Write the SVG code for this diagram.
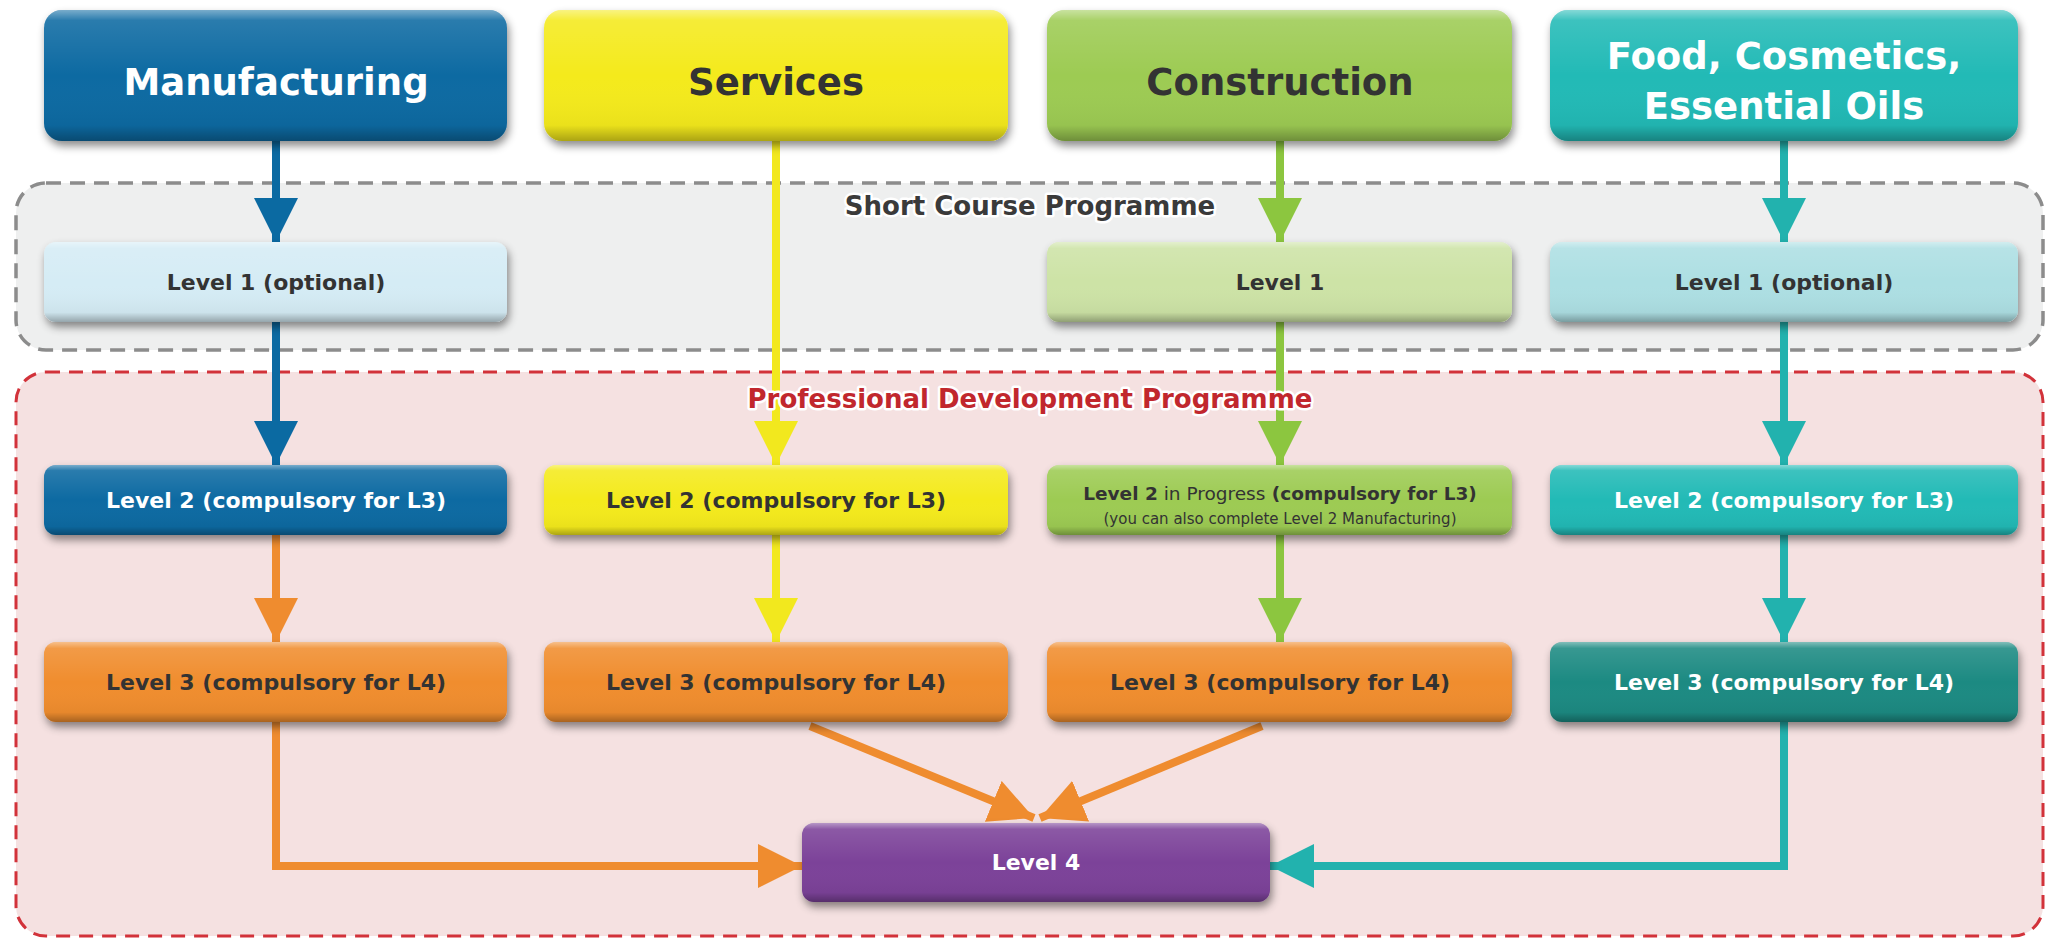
<svg xmlns="http://www.w3.org/2000/svg" width="2049" height="939" viewBox="0 0 2049 939">
<style>
text{font-family:"DejaVu Sans","Liberation Sans",sans-serif;font-weight:bold;text-anchor:middle}
.hdr{font-size:37px}
.lvl{font-size:22px}
.w{fill:#ffffff}
.d{fill:#333333}
.bev{fill:url(#bevel)}
.base{filter:url(#sh)}
.ln{fill:none;stroke-width:8}
.prog{font-size:26px;stroke:#ffffff;stroke-width:5;stroke-linejoin:round;paint-order:stroke}
</style>
<defs>
<filter id="sh" x="-5%" y="-10%" width="110%" height="130%">
<feDropShadow dx="2" dy="5" stdDeviation="4" flood-color="#000" flood-opacity="0.45"/>
</filter>
<linearGradient id="bevel" x1="0" y1="0" x2="0" y2="1">
<stop offset="0" stop-color="#fff" stop-opacity="0.45"/>
<stop offset="0.08" stop-color="#fff" stop-opacity="0.12"/>
<stop offset="0.5" stop-color="#fff" stop-opacity="0"/>
<stop offset="0.88" stop-color="#000" stop-opacity="0.04"/>
<stop offset="1" stop-color="#000" stop-opacity="0.3"/>
</linearGradient>
<marker id="aB" markerUnits="userSpaceOnUse" markerWidth="44" markerHeight="44" refX="44" refY="22" orient="auto"><path d="M0,0 L44,22 L0,44 z" fill="#0b6aa2"/></marker>
<marker id="aY" markerUnits="userSpaceOnUse" markerWidth="44" markerHeight="44" refX="44" refY="22" orient="auto"><path d="M0,0 L44,22 L0,44 z" fill="#f2e81e"/></marker>
<marker id="aG" markerUnits="userSpaceOnUse" markerWidth="44" markerHeight="44" refX="44" refY="22" orient="auto"><path d="M0,0 L44,22 L0,44 z" fill="#8cc63f"/></marker>
<marker id="aT" markerUnits="userSpaceOnUse" markerWidth="44" markerHeight="44" refX="44" refY="22" orient="auto"><path d="M0,0 L44,22 L0,44 z" fill="#22b2ae"/></marker>
<marker id="aO" markerUnits="userSpaceOnUse" markerWidth="44" markerHeight="44" refX="44" refY="22" orient="auto"><path d="M0,0 L44,22 L0,44 z" fill="#ef8c2f"/></marker>
</defs>
<rect width="2049" height="939" fill="#ffffff"/>

<g id="short-course">
<rect x="16" y="183" width="2027" height="167" rx="30" fill="#eeefef" stroke="#8c8c8c" stroke-width="3.5" stroke-dasharray="15 9"/>
</g>
<g id="professional">
<rect x="16" y="372" width="2027" height="564" rx="30" fill="#f5e1e1" stroke="#d2323a" stroke-width="3" stroke-dasharray="14 9"/>
</g>

<g id="connectors">
<path class="ln" d="M276,141 V242" stroke="#0b6aa2" marker-end="url(#aB)"/>
<path class="ln" d="M276,322 V465" stroke="#0b6aa2" marker-end="url(#aB)"/>
<path class="ln" d="M276,535 V642" stroke="#ef8c2f" marker-end="url(#aO)"/>
<path class="ln" d="M276,722 V866 H802" stroke="#ef8c2f" marker-end="url(#aO)"/>
<path class="ln" d="M776,141 V465" stroke="#f2e81e" marker-end="url(#aY)"/>
<path class="ln" d="M776,535 V642" stroke="#f2e81e" marker-end="url(#aY)"/>
<path class="ln" d="M810,726 L1034,818" stroke="#ef8c2f" marker-end="url(#aO)"/>
<path class="ln" d="M1262,726 L1040,818" stroke="#ef8c2f" marker-end="url(#aO)"/>
<path class="ln" d="M1280,141 V242" stroke="#8cc63f" marker-end="url(#aG)"/>
<path class="ln" d="M1280,322 V465" stroke="#8cc63f" marker-end="url(#aG)"/>
<path class="ln" d="M1280,535 V642" stroke="#8cc63f" marker-end="url(#aG)"/>
<path class="ln" d="M1784,141 V242" stroke="#22b2ae" marker-end="url(#aT)"/>
<path class="ln" d="M1784,322 V465" stroke="#22b2ae" marker-end="url(#aT)"/>
<path class="ln" d="M1784,535 V642" stroke="#22b2ae" marker-end="url(#aT)"/>
<path class="ln" d="M1784,722 V866 H1270" stroke="#22b2ae" marker-end="url(#aT)"/>
</g>

<g id="programme-labels">
<text class="prog" x="1030" y="215" fill="#3a3a3a">Short Course Programme</text>
<text class="prog" x="1030" y="408" fill="#c1272d">Professional Development Programme</text>
</g>

<g id="manufacturing">
<rect class="base" x="44" y="10" width="463" height="131" rx="18" fill="#0b6aa2"/>
<rect class="bev" x="44" y="10" width="463" height="131" rx="18"/>
<text class="hdr w" x="276" y="95">Manufacturing</text>
</g>
<g id="services">
<rect class="base" x="544" y="10" width="464" height="131" rx="18" fill="#f4ea1f"/>
<rect class="bev" x="544" y="10" width="464" height="131" rx="18"/>
<text class="hdr d" x="776" y="95">Services</text>
</g>
<g id="construction">
<rect class="base" x="1047" y="10" width="465" height="131" rx="18" fill="#9dcb52"/>
<rect class="bev" x="1047" y="10" width="465" height="131" rx="18"/>
<text class="hdr d" x="1280" y="95">Construction</text>
</g>
<g id="food">
<rect class="base" x="1550" y="10" width="468" height="131" rx="18" fill="#22bab6"/>
<rect class="bev" x="1550" y="10" width="468" height="131" rx="18"/>
<text class="hdr w" x="1784" y="69">Food, Cosmetics,</text>
<text class="hdr w" x="1784" y="119">Essential Oils</text>
</g>

<g id="manufacturing-l1">
<rect class="base" x="44" y="242" width="463" height="80" rx="12" fill="#d5ecf5"/>
<rect class="bev" x="44" y="242" width="463" height="80" rx="12"/>
<text class="lvl d" x="276" y="290">Level 1 (optional)</text>
</g>
<g id="construction-l1">
<rect class="base" x="1047" y="242" width="465" height="80" rx="12" fill="#cde3a6"/>
<rect class="bev" x="1047" y="242" width="465" height="80" rx="12"/>
<text class="lvl d" x="1280" y="290">Level 1</text>
</g>
<g id="food-l1">
<rect class="base" x="1550" y="242" width="468" height="80" rx="12" fill="#addfe3"/>
<rect class="bev" x="1550" y="242" width="468" height="80" rx="12"/>
<text class="lvl d" x="1784" y="290">Level 1 (optional)</text>
</g>

<g id="manufacturing-l2">
<rect class="base" x="44" y="465" width="463" height="70" rx="12" fill="#0b6aa2"/>
<rect class="bev" x="44" y="465" width="463" height="70" rx="12"/>
<text class="lvl w" x="276" y="508">Level 2 (compulsory for L3)</text>
</g>
<g id="services-l2">
<rect class="base" x="544" y="465" width="464" height="70" rx="12" fill="#f4ea1f"/>
<rect class="bev" x="544" y="465" width="464" height="70" rx="12"/>
<text class="lvl d" x="776" y="508">Level 2 (compulsory for L3)</text>
</g>
<g id="construction-l2">
<rect class="base" x="1047" y="465" width="465" height="70" rx="12" fill="#9dcb52"/>
<rect class="bev" x="1047" y="465" width="465" height="70" rx="12"/>
<text x="1280" y="500" class="d" style="font-size:18.5px">Level 2<tspan style="font-weight:normal"> in Progress</tspan> (compulsory for L3)</text>
<text x="1280" y="524" class="d" style="font-size:15px;font-weight:normal">(you can also complete Level 2 Manufacturing)</text>
</g>
<g id="food-l2">
<rect class="base" x="1550" y="465" width="468" height="70" rx="12" fill="#22bab6"/>
<rect class="bev" x="1550" y="465" width="468" height="70" rx="12"/>
<text class="lvl w" x="1784" y="508">Level 2 (compulsory for L3)</text>
</g>

<g id="manufacturing-l3">
<rect class="base" x="44" y="642" width="463" height="80" rx="12" fill="#f08d2f"/>
<rect class="bev" x="44" y="642" width="463" height="80" rx="12"/>
<text class="lvl d" x="276" y="690">Level 3 (compulsory for L4)</text>
</g>
<g id="services-l3">
<rect class="base" x="544" y="642" width="464" height="80" rx="12" fill="#f08d2f"/>
<rect class="bev" x="544" y="642" width="464" height="80" rx="12"/>
<text class="lvl d" x="776" y="690">Level 3 (compulsory for L4)</text>
</g>
<g id="construction-l3">
<rect class="base" x="1047" y="642" width="465" height="80" rx="12" fill="#f08d2f"/>
<rect class="bev" x="1047" y="642" width="465" height="80" rx="12"/>
<text class="lvl d" x="1280" y="690">Level 3 (compulsory for L4)</text>
</g>
<g id="food-l3">
<rect class="base" x="1550" y="642" width="468" height="80" rx="12" fill="#1f8a82"/>
<rect class="bev" x="1550" y="642" width="468" height="80" rx="12"/>
<text class="lvl w" x="1784" y="690">Level 3 (compulsory for L4)</text>
</g>

<g id="level4">
<rect class="base" x="802" y="823" width="468" height="79" rx="12" fill="#7b4299"/>
<rect class="bev" x="802" y="823" width="468" height="79" rx="12"/>
<text class="lvl w" x="1036" y="870">Level 4</text>
</g>
</svg>
